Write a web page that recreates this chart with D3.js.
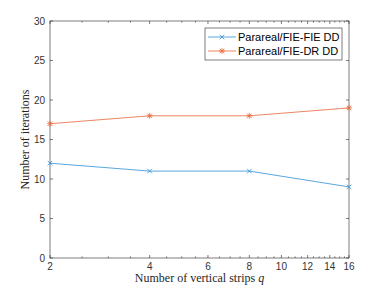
<!DOCTYPE html>
<html>
<head>
<meta charset="utf-8">
<script src="https://cdn.jsdelivr.net/npm/d3@7"></script>
<style>
  body { margin: 0; background: #fff; }
  svg { display: block; }
  .tick text { font-family: "Liberation Sans", Arial, sans-serif; font-size: 10px; fill: #333; }
  .lbl { font-family: "Liberation Serif", "DejaVu Serif", serif; font-size: 12px; fill: #262626; }
</style>
</head>
<body>
<div id="vis"></div>
<script>
// strips q
const strips = [2, 4, 8, 16];
// iterations per method
const fieFie = [12, 11, 11, 9];
const fieDr = [17, 18, 18, 19];
const seriesNames = ["Parareal/FIE-FIE DD", "Parareal/FIE-DR DD"];
const xTicks = [2, 4, 6, 8, 10, 12, 14, 16];
const yTicks = [0, 5, 10, 15, 20, 25, 30];

const width = 386, height = 290;
const margin = {top: 21, right: 37, bottom: 32, left: 50};

const svg = d3.select("#vis").append("svg")
  .attr("width", width)
  .attr("height", height);

const x = d3.scaleLog().base(2)
  .domain([2, 16])
  .range([margin.left, width - margin.right]);

const y = d3.scaleLinear()
  .domain([0, 30])
  .range([height - margin.bottom, margin.top]);

const x0 = x.range()[0], x1 = x.range()[1];
const y0 = y.range()[0], y1 = y.range()[1];

// minor ticks every 0.5
const minorX = d3.range(2.5, 16, 0.5).filter(v => v % 2 !== 0);

const axisColor = "#262626";

// box
svg.append("rect")
  .attr("x", x0).attr("y", y1)
  .attr("width", x1 - x0).attr("height", y0 - y1)
  .attr("fill", "none")
  .attr("stroke", axisColor)
  .attr("stroke-width", 0.6);

const tickG = svg.append("g").attr("stroke", axisColor).attr("stroke-width", 0.6);

// x ticks (bottom and top, inward)
xTicks.forEach(function (v) {
  tickG.append("line").attr("x1", x(v)).attr("x2", x(v)).attr("y1", y0).attr("y2", y0 - 3);
  tickG.append("line").attr("x1", x(v)).attr("x2", x(v)).attr("y1", y1).attr("y2", y1 + 3);
});
minorX.forEach(function (v) {
  tickG.append("line").attr("x1", x(v)).attr("x2", x(v)).attr("y1", y0).attr("y2", y0 - 1.6);
  tickG.append("line").attr("x1", x(v)).attr("x2", x(v)).attr("y1", y1).attr("y2", y1 + 1.6);
});
// y ticks (left and right, inward)
yTicks.forEach(function (v) {
  tickG.append("line").attr("x1", x0).attr("x2", x0 + 3).attr("y1", y(v)).attr("y2", y(v));
  tickG.append("line").attr("x1", x1).attr("x2", x1 - 3).attr("y1", y(v)).attr("y2", y(v));
});

// tick labels
const xl = svg.append("g").attr("class", "tick");
xl.selectAll("text").data(xTicks).join("text")
  .attr("x", d => x(d))
  .attr("y", y0 + 12)
  .attr("text-anchor", "middle")
  .text(d => d);

const yl = svg.append("g").attr("class", "tick");
yl.selectAll("text").data(yTicks).join("text")
  .attr("x", x0 - 5)
  .attr("y", d => y(d) + 3.5)
  .attr("text-anchor", "end")
  .text(d => d);

// axis labels
svg.append("text").attr("class", "lbl")
  .attr("x", (x0 + x1) / 2)
  .attr("y", 282)
  .attr("text-anchor", "middle")
  .html('Number of vertical strips <tspan font-style="italic">q</tspan>');

svg.append("text").attr("class", "lbl")
  .attr("transform", "translate(" + 29 + "," + ((y0 + y1) / 2) + ") rotate(-90)")
  .attr("text-anchor", "middle")
  .text("Number of iterations");

// series
const colors = ["#2f8fd6", "#e8673a"];
const series = [fieFie, fieDr];

const line = d3.line()
  .x((d, i) => x(strips[i]))
  .y(d => y(d));

function drawMarker(g, type, cx, cy, color) {
  const s = 2.3;
  const p = d3.path();
  p.moveTo(cx - s, cy - s); p.lineTo(cx + s, cy + s);
  p.moveTo(cx - s, cy + s); p.lineTo(cx + s, cy - s);
  if (type === "star") {
    p.moveTo(cx - s * 1.3, cy); p.lineTo(cx + s * 1.3, cy);
    p.moveTo(cx, cy - s * 1.3); p.lineTo(cx, cy + s * 1.3);
  }
  g.append("path").attr("d", p.toString())
    .attr("stroke", color).attr("stroke-width", 0.8).attr("fill", "none");
}

const markerTypes = ["x", "star"];

series.forEach(function (vals, k) {
  svg.append("path")
    .datum(vals)
    .attr("d", line)
    .attr("fill", "none")
    .attr("stroke", colors[k])
    .attr("stroke-width", 0.8);
  const g = svg.append("g");
  vals.forEach(function (v, i) {
    drawMarker(g, markerTypes[k], x(strips[i]), y(v), colors[k]);
  });
});

// legend
const lg = svg.append("g");
const lx = 205, ly = 28, lw = 137, lh = 32;
lg.append("rect")
  .attr("x", lx).attr("y", ly).attr("width", lw).attr("height", lh)
  .attr("fill", "#fff").attr("stroke", axisColor).attr("stroke-width", 0.6);
seriesNames.forEach(function (name, k) {
  const yy = ly + 9 + k * 14;
  lg.append("line")
    .attr("x1", lx + 3).attr("x2", lx + 31)
    .attr("y1", yy).attr("y2", yy)
    .attr("stroke", colors[k]).attr("stroke-width", 0.8);
  drawMarker(lg, markerTypes[k], lx + 17, yy, colors[k]);
  lg.append("text")
    .attr("x", lx + 33)
    .attr("y", yy + 4)
    .attr("font-family", "Liberation Sans, Arial, sans-serif")
    .attr("font-size", "11px")
    .attr("fill", "#000")
    .text(name);
});
</script>
</body>
</html>
